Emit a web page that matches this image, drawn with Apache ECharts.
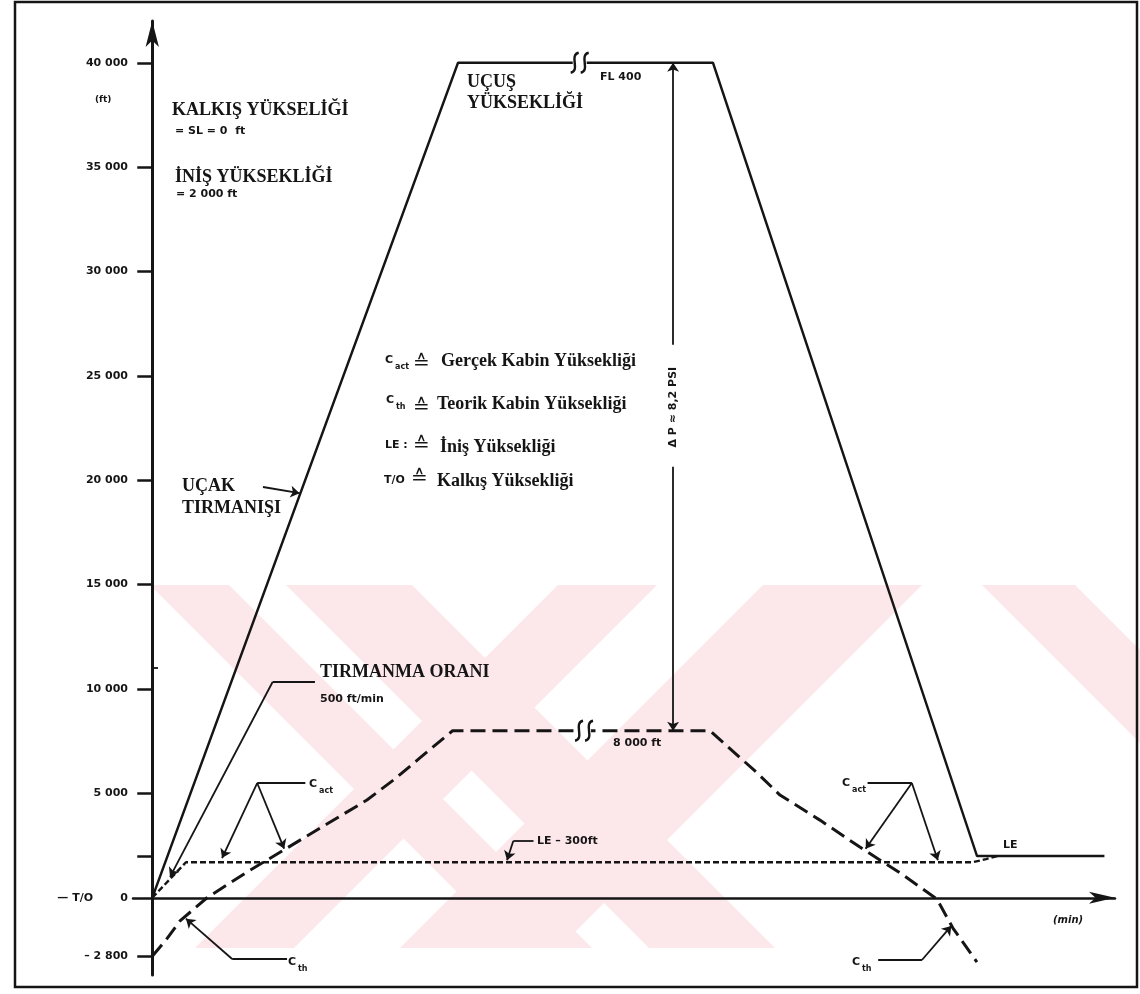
<!DOCTYPE html>
<html lang="tr">
<head>
<meta charset="utf-8">
<title>Kabin basınç profili</title>
<script src="https://cdn.jsdelivr.net/npm/echarts@6.0.0/dist/echarts.min.js"></script>
<style>
  html, body { margin: 0; padding: 0; background: #fff; }
  #chart { width: 1140px; height: 994px; }
</style>
</head>
<body>
<div id="chart"></div>
<script>
// Time runs along x (min, unlabelled), altitude along y (ft)
const yLabelValues = [-2800, 0, 5000, 10000, 15000, 20000, 25000, 30000, 35000, 40000];
const yLabelTexts  = ['– 2 800', '0', '5 000', '10 000', '15 000', '20 000', '25 000', '30 000', '35 000', '40 000'];
const yTickValues  = [-2800, 2000, 5000, 10000, 15000, 20000, 25000, 30000, 35000, 40000];

// Aircraft flight profile: climb, cruise at FL 400, descent to landing elevation
const aircraftTime = [0, 31.76, 58.24, 85.67, 98.9];
const aircraftAlt  = [0, 40000, 40000, 2000, 2000];

// Actual cabin altitude (LE - 300 ft plateau)
const cabinActTime = [0, 3.5, 85.2, 86.6, 87.8];
const cabinActAlt  = [0, 1700, 1700, 1850, 2000];

// Theoretical cabin altitude
const cabinThTime = [0, 1.43, 2.88, 5.69, 9.84, 13.99, 18.14, 22.3, 25.2, 27.8, 31.2, 57.93, 62.83, 65.2, 69.35, 73.5, 77.67, 81.5, 83.16, 85.66];
const cabinThAlt  = [-2800, -2020, -1110, 0, 1230, 2380, 3530, 4680, 5690, 6700, 8000, 8000, 5980, 4920, 3720, 2430, 1190, -60, -1450, -3080];

// Callout leaders, in (min, ft)
const leaderSegments = [
  [[16.9, 10335], [12.5, 10335]],
  [[15.9, 5497], [10.9, 5497]],
  [[14.0, -2934], [8.3, -2934]],
  [[39.6, 2718], [37.5, 2718]],
  [[74.3, 5497], [78.9, 5497]],
  [[75.4, -2982], [79.95, -2982]],
  [[0, 11000], [0.6, 11000]]
];
const leaderArrows = [
  [[12.5, 10335], [1.85, 1000]],
  [[10.9, 5497], [7.25, 1900]],
  [[10.9, 5497], [13.7, 2350]],
  [[8.3, -2934], [3.5, -1000]],
  [[37.5, 2718], [36.85, 1800]],
  [[78.9, 5497], [74.1, 2350]],
  [[78.9, 5497], [81.6, 1800]],
  [[79.95, -2982], [83.0, -1350]],
  [[11.5, 19677], [15.3, 19380]],
  [[54.1, 26490], [54.1, 40000]],
  [[54.1, 20650], [54.1, 8000]]
];
// Break marks on the cruise lines
const breakMarks = [[44.4, 40000], [44.85, 8000]];

const INK = '#151515';
const SERIF = '"Liberation Serif", "DejaVu Serif", serif';
const SANS = '"DejaVu Sans", "Liberation Sans", sans-serif';
const zip = (xs, ys) => xs.map((x, i) => [x, ys[i]]);
const labelFor = v => { const i = yLabelValues.indexOf(v); return i < 0 ? '' : yLabelTexts[i]; };

const chart = echarts.init(document.getElementById('chart'));

chart.setOption({
  animation: false,
  backgroundColor: '#ffffff',
  grid: { left: 133, right: 25, top: 21, bottom: 19 },
  xAxis: {
    type: 'value', min: -2, max: 100,
    axisLine: { show: true, onZero: true, symbol: ['none', 'arrow'], symbolSize: [9, 26],
      lineStyle: { color: INK, width: 2.5 } },
    axisTick: { show: false }, axisLabel: { show: false }, splitLine: { show: false }
  },
  yAxis: {
    type: 'value', min: -3700, max: 42000,
    axisLine: { show: true, onZero: true, symbol: ['none', 'arrow'], symbolSize: [10, 26],
      lineStyle: { color: INK, width: 3 } },
    axisTick: { show: true, length: 15, customValues: yTickValues, lineStyle: { color: INK, width: 2.5 } },
    axisLabel: { show: true, margin: 5, customValues: yLabelValues, formatter: labelFor,
      color: INK, fontFamily: 'DejaVu Sans', fontWeight: 'bold', fontSize: 11 },
    splitLine: { show: false }
  },
  series: [
    { type: 'line', name: 'Uçak', data: zip(aircraftTime, aircraftAlt), symbol: 'none', z: 4,
      lineStyle: { color: INK, width: 2.4 } },
    { type: 'line', name: 'C act', data: zip(cabinActTime, cabinActAlt), symbol: 'none', z: 3,
      lineStyle: { color: INK, width: 2.4, type: [6, 3] } },
    { type: 'line', name: 'C th', data: zip(cabinThTime, cabinThAlt), symbol: 'none', z: 3,
      lineStyle: { color: INK, width: 3, type: [15, 7] } },
    { type: 'lines', coordinateSystem: 'cartesian2d', z: 5, symbol: 'none',
      data: leaderSegments.map(c => ({ coords: c })),
      lineStyle: { color: INK, width: 1.8, opacity: 1 } },
    { type: 'lines', coordinateSystem: 'cartesian2d', z: 5, symbol: ['none', 'arrow'], symbolSize: 9,
      data: leaderArrows.map(c => ({ coords: c })),
      lineStyle: { color: INK, width: 1.8, opacity: 1 } }
  ]
});

// Annotation texts
function txt(text, x, y, font, opts) {
  return Object.assign({ type: 'text', z: 100, x: x, y: y,
    style: Object.assign({ text: text, font: font, fill: INK, textAlign: 'left', textVerticalAlign: 'middle' }, (opts && opts.style) || {}) },
    opts && opts.rotation !== undefined ? { rotation: opts.rotation } : {});
}
const serif = 'bold 18px ' + SERIF;
const small = 'bold 11px ' + SANS;
const sub = 'bold 8px ' + SANS;
const sym = '20px ' + SANS;

const g = [];

// faint diagonal page stamp in the lower part of the sheet (flat tint, no darker overlaps)
const stampTop = 585, stampBottom = 948, stampH = stampBottom - stampTop;
const stampBands = [[150, 229, 1], [286, 412, 1], [558, 657, -1], [763, 922, -1], [982, 1075, 1]];
stampBands.forEach(function (b) {
  const s = b[2] * stampH;
  g.push({ type: 'polygon', z: -1, silent: true,
    shape: { points: [[b[0], stampTop], [b[1], stampTop], [b[1] + s, stampBottom], [b[0] + s, stampBottom]] },
    style: { fill: '#fce7eb' } });
});

// frame
g.push({ type: 'rect', z: 100, shape: { x: 15, y: 2, width: 1122, height: 985 },
  style: { fill: 'none', stroke: INK, lineWidth: 2.5 } });

// break marks drawn at data positions
breakMarks.forEach(function (p) {
  const c = chart.convertToPixel({ gridIndex: 0 }, p);
  g.push({ type: 'rect', z: 60, shape: { x: c[0] - 7, y: c[1] - 4, width: 14, height: 8 }, style: { fill: '#fff' } });
  [-5, 5].forEach(function (dx) {
    const x = c[0] + dx;
    g.push({ type: 'bezierCurve', z: 61,
      shape: { x1: x - 4, y1: c[1] + 10, x2: x + 4, y2: c[1] - 10, cpx1: x + 6, cpy1: c[1] + 8, cpx2: x - 6, cpy2: c[1] - 8 },
      style: { fill: 'none', stroke: INK, lineWidth: 2.4 } });
  });
});

g.push(txt('(ft)', 95, 100, 'bold 9px ' + SANS));
g.push(txt('KALKIŞ YÜKSELİĞİ', 172, 110, serif));
g.push(txt('= SL = 0  ft', 175, 131, small));
g.push(txt('İNİŞ YÜKSEKLİĞİ', 175, 177, serif));
g.push(txt('= 2 000 ft', 176, 194, small));
g.push(txt('UÇUŞ', 467, 82, serif));
g.push(txt('YÜKSEKLİĞİ', 467, 103, serif));
g.push(txt('FL 400', 600, 77, small));
g.push(txt('UÇAK', 182, 486, serif));
g.push(txt('TIRMANIŞI', 182, 508, serif));
g.push(txt('TIRMANMA ORANI', 320, 672, serif));
g.push(txt('500 ft/min', 320, 699, small));
g.push(txt('8 000 ft', 613, 743, small));
g.push(txt('LE – 300ft', 537, 841, small));
g.push(txt('LE', 1003, 845, small));
g.push(txt('(min)', 1053, 920, 'italic bold 10px ' + SANS));
g.push(txt('— T/O', 93, 898, small, { style: { textAlign: 'right' } }));

// C_act / C_th callouts
function cLabel(x, y, s) {
  g.push(txt('C', x, y, small));
  g.push(txt(s, x + 10, y + 7, sub));
}
cLabel(309, 784, 'act');
cLabel(842, 783, 'act');
cLabel(288, 962, 'th');
cLabel(852, 962, 'th');

// definitions block
cLabel(385, 360, 'act');
g.push(txt('≙', 413, 364, sym));
g.push(txt('Gerçek Kabin Yüksekliği', 441, 361, serif));
cLabel(386, 400, 'th');
g.push(txt('≙', 413, 408, sym));
g.push(txt('Teorik Kabin Yüksekliği', 437, 404, serif));
g.push(txt('LE :', 385, 445, small));
g.push(txt('≙', 413, 446, sym));
g.push(txt('İniş Yüksekliği', 440, 447, serif));
g.push(txt('T/O', 384, 480, small));
g.push(txt('≙', 411, 479, sym));
g.push(txt('Kalkış Yüksekliği', 437, 481, serif));

// pressure differential along the vertical arrow
const dp = chart.convertToPixel({ gridIndex: 0 }, [54.1, 23500]);
g.push(txt('Δ P ≈ 8,2 PSI', dp[0], dp[1], 'bold 11px ' + SANS,
  { style: { textAlign: 'center' }, rotation: Math.PI / 2 }));

chart.setOption({ graphic: { elements: g } });
</script>
</body>
</html>
